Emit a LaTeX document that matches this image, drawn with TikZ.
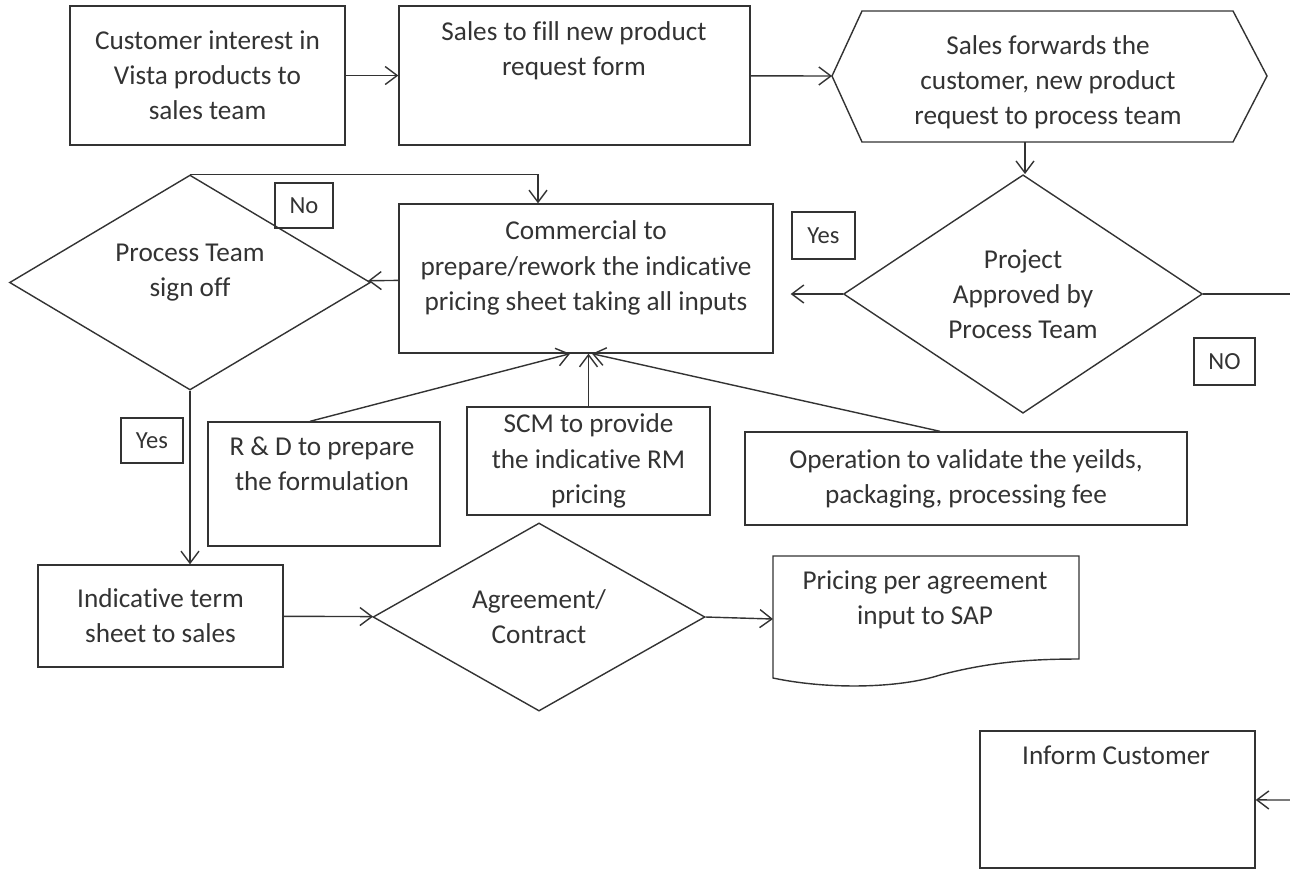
\documentclass[tikz,border=0pt]{standalone}
\usepackage{fontspec}
\setmainfont{Carlito}[Ligatures=NoCommon]
\usetikzlibrary{shapes.geometric,arrows.meta,calc}

\begin{document}
\begin{tikzpicture}[x=0.02cm, y=-0.02cm, line width=0.8pt, color=black!80,
        box/.style={draw, rectangle, inner sep=0pt, align=center, font=\fontsize{15.5}{20}\selectfont},
        txt/.style={inner sep=0pt, align=center, font=\fontsize{15.5}{20}\selectfont},
        choice/.style={draw, diamond, inner sep=0pt, align=center, font=\fontsize{15.5}{20}\selectfont},
        tag/.style={draw, rectangle, inner sep=0pt, font=\fontsize{14}{16}\selectfont},
        flow/.style={-{Straight Barb[length=2.4mm,width=3.6mm]}}]
            \useasboundingbox (0,0) rectangle (1290,870);

            % first row
            \node [box, minimum width=5.5cm, minimum height=2.78cm] (cust) at (207.5,75.5) {Customer interest in\\Vista products to\\sales team};
            \node [box, minimum width=7.02cm, minimum height=2.78cm] (form) at (574.5,75.5) {};
            \node [txt] (formT) at (574,51) {Sales to fill new product\\request form};

            \coordinate (fwdW) at (832,76);
            \coordinate (fwdE) at (1267,76);
            \coordinate (fwdS) at (1025,142);
            \draw (fwdW) -- (862,11) -- (1233,11) -- (fwdE) -- (1233,142) -- (862,142) -- cycle;
            \node [txt] (fwd) at (1048,82) {Sales forwards the\\customer, new product\\request to process team};

            % decisions and pricing sheet
            \node [choice, minimum width=7.18cm, minimum height=4.28cm] (prj) at (1023,294) {Project\\Approved by\\Process Team};
            \node [box, minimum width=7.48cm, minimum height=2.98cm] (com) at (586,278.5) {};
            \node [txt] (comT) at (586,268) {Commercial to\\prepare/rework the indicative\\pricing sheet taking all inputs};
            \node [choice, minimum width=7.22cm, minimum height=4.3cm] (pts) at (190,282.5) {};
            \node [txt] (ptsT) at (190,273) {Process Team\\sign off};

            \node [tag, minimum width=1.26cm, minimum height=0.94cm] (yesA) at (823.5,235.5) {Yes};
            \node [tag, minimum width=1.22cm, minimum height=0.94cm] (noA) at (1224.5,361.5) {NO};
            \node [tag, minimum width=1.16cm, minimum height=0.9cm] (noB) at (304,205.5) {No};
            \node [tag, minimum width=1.24cm, minimum height=0.9cm] (yesB) at (152,440.5) {Yes};

            % inputs
            \node [box, minimum width=4.64cm, minimum height=2.48cm] (rnd) at (324,484) {};
            \node [txt] (rndT) at (322,464) {R \& D to prepare\\the formulation};
            \node [box, minimum width=4.86cm, minimum height=2.16cm] (scm) at (588.5,461) {SCM to provide\\the indicative RM\\pricing};
            \node [box, minimum width=8.84cm, minimum height=1.86cm] (op) at (966,478.5) {Operation to validate the yeilds,\\packaging, processing fee};

            % last row
            \node [box, minimum width=4.9cm, minimum height=2.04cm] (term) at (160.5,616) {Indicative term\\sheet to sales};
            \node [choice, minimum width=6.64cm, minimum height=3.24cm] (agr) at (539,617) {Agreement/\\Contract};

            \coordinate (priceW) at (773,619);
            \draw (773,556) -- (1079,556) -- (1079,659) .. controls (1030,659) and (990,662) .. (940,675)
                .. controls (900,688) and (830,690) .. (773,678) -- cycle;
            \node [txt] (priceT) at (925,600) {Pricing per agreement\\input to SAP};

            \node [box, minimum width=5.5cm, minimum height=2.74cm] (inf) at (1117.5,799.5) {};
            \node [txt] (infT) at (1116,755) {Inform Customer};

            \coordinate (rimD) at (1290,294);
            \coordinate (rimI) at (1290,800);

            % connectors
            \draw [flow] (cust) -- (form);
            \draw [flow] (form) -- (fwdW);
            \draw [flow] (fwdS) -- (fwdS |- prj.north);
            \draw [flow] (prj.west) -- ($(prj.west -| com.east)+(17,0)$);
            \draw (prj.east) -- (rimD);
            \draw [flow] (com) -- (pts);
            \draw [flow] (pts.north) -| ($(com.north)+(-48,0)$);
            \draw [flow] (pts.south) -- (pts.south |- term.north);
            \draw [flow] ($(rnd.north)+(-14,0)$) -- ($(com.south)+(-16,0)$);
            \draw [flow] (scm.north) -- (scm.north |- com.south);
            \draw [flow] ($(op.north)+(-26,0)$) -- ($(com.south)+(6,0)$);
            \draw [flow] (term) -- (agr);
            \draw [flow] (agr.east) -- (priceW);
            \draw [flow] (rimI) -- (inf);
\end{tikzpicture}
\end{document}
